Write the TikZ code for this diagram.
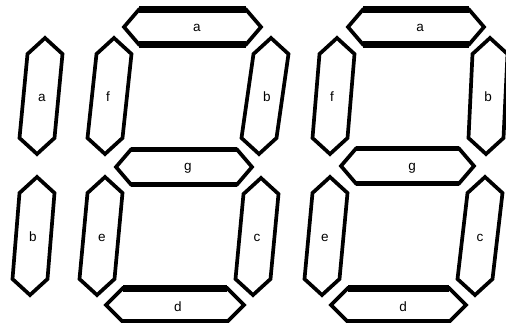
\documentclass[tikz,border=0pt]{standalone}
\usepackage{fontspec}
\setmainfont{Liberation Sans}
\newcommand\vseg[4]{\draw[seg] (#1,#2) -- ({#1+17.5},{#2+16}) -- ({#3+17.5},{#4-16}) -- (#3,#4) -- ({#3-17.5},{#4-16}) -- ({#1-17.5},{#2+16}) -- cycle;}
\newcommand\hseg[6]{%
  \draw[seg] (#1,#3) -- ({#1+#5},{#3-#4}) -- ({#2-#5},{#3-#4}) -- (#2,#3) -- ({#2-#5},{#3+#4}) -- ({#1+#5},{#3+#4}) -- cycle;
  \draw[bar=#6] ({#1+#5},{#3-#4}) -- ({#2-#5},{#3-#4});
  \draw[bar=#6] ({#1+#5},{#3+#4}) -- ({#2-#5},{#3+#4});}
\begin{document}
\begin{tikzpicture}[x=1pt,y=-1pt,
  seg/.style={draw=black,line width=3.7pt,line join=miter,fill=white},
  bar/.style={line width=#1,line cap=butt},
  lab/.style={font=\fontsize{13.5}{14}\selectfont,inner sep=0pt,anchor=base}]
\useasboundingbox[fill=white] (0,0) rectangle (506,323);
% left digit
\vseg{45}{38}{37}{154}
\vseg{37}{177}{30}{295}
\node[lab] (la) at (42,102) {a};
\node[lab] (lb) at (33,242) {b};
% middle digit
\hseg{124}{261}{27}{17.5}{15}{7pt}
\vseg{114}{38}{105}{154}
\vseg{271}{38}{259}{154}
\hseg{116}{252}{167}{17.5}{15}{5.5pt}
\vseg{105}{177}{97}{295}
\vseg{261}{178}{253}{295}
\hseg{106}{244}{305}{17}{17}{7pt}
\node[lab] (ma) at (197,32) {a};
\node[lab] (mf) at (108,102) {f};
\node[lab] (mb) at (267,102) {b};
\node[lab] (mg) at (188,171) {g};
\node[lab] (me) at (102,242) {e};
\node[lab] (mc) at (257,242) {c};
\node[lab] (md) at (178,311) {d};
% right digit
\hseg{348}{484}{27}{17.5}{15}{7pt}
\vseg{337}{38}{330}{154}
\vseg{490}{38}{486}{154}
\hseg{341}{474}{166}{17.5}{15}{5.5pt}
\vseg{330}{177}{322}{295}
\vseg{485}{177}{475}{295}
\hseg{331}{466}{305}{17}{17}{7pt}
\node[lab] (ra) at (420,32) {a};
\node[lab] (rf) at (332,102) {f};
\node[lab] (rb) at (488,102) {b};
\node[lab] (rg) at (412,171) {g};
\node[lab] (re) at (325,242) {e};
\node[lab] (rc) at (480,242) {c};
\node[lab] (rd) at (403,311) {d};
\end{tikzpicture}
\end{document}
